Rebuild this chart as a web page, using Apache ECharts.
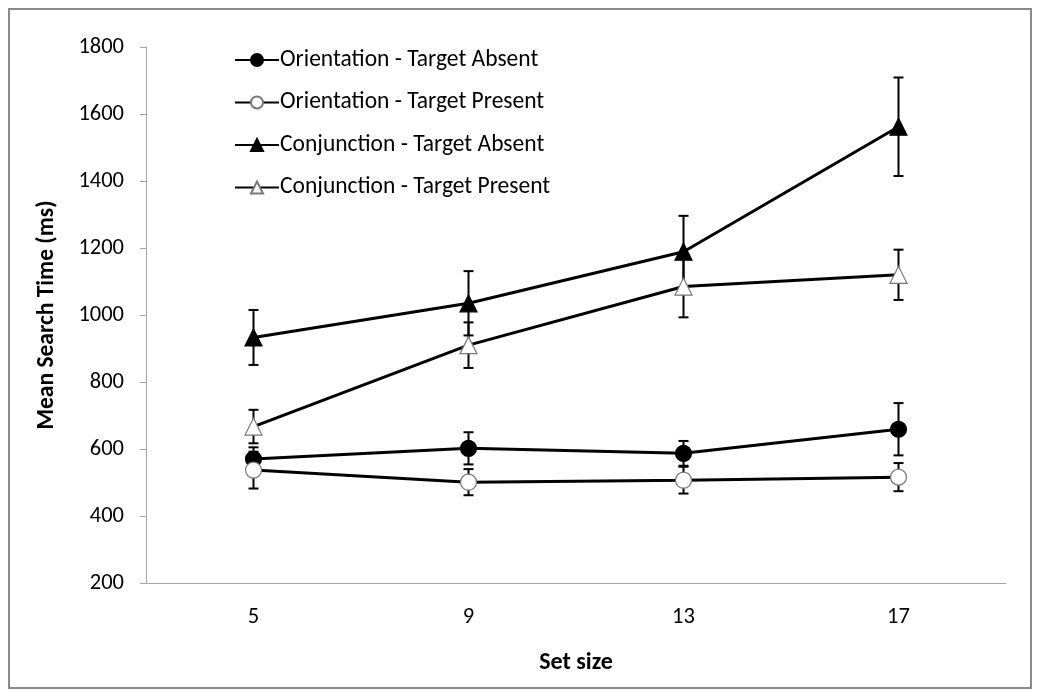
<!DOCTYPE html>
<html lang="en">
<head>
    <meta charset="UTF-8">
    <title>Mean Search Time</title>
    <style>
        html, body { margin: 0; padding: 0; background: #fff; }
        #main { width: 1040px; height: 696px; }
    </style>
</head>
<body>
<div id="main"></div>

<script src="https://cdn.jsdelivr.net/npm/echarts@6/dist/echarts.min.js"></script>
<script>
    var setSizes = ['5', '9', '13', '17'];
    var yTicks = [200, 400, 600, 800, 1000, 1200, 1400, 1600, 1800];

    var orientAbsent = [570, 602, 587, 659];
    var orientAbsentErr = [35, 48, 37, 78];
    var orientPresent = [537, 501, 507, 516];
    var orientPresentErr = [55, 39, 40, 42];
    var conjAbsent = [933, 1035, 1189, 1562];
    var conjAbsentErr = [82, 96, 107, 147];
    var conjPresent = [667, 910, 1085, 1120];
    var conjPresentErr = [50, 68, 92, 75];

    var font = 'Carlito, Calibri, "Noto Sans", sans-serif';

    function lineSeries(name, data, symbol, filled) {
        return {
            name: name,
            type: 'line',
            data: data,
            symbol: symbol,
            symbolSize: symbol === 'circle' ? 16 : 17,
            z: 4,
            lineStyle: { color: '#000', width: 3 },
            itemStyle: {
                color: filled ? '#000' : '#fff',
                borderColor: filled ? '#000' : '#777',
                borderWidth: 1.2
            }
        };
    }

    function errorSeries(values, errs) {
        var rows = values.map(function (v, i) {
            return [i, v - errs[i], v + errs[i]];
        });
        return {
            type: 'custom',
            data: rows,
            z: 3,
            silent: true,
            renderItem: function (params, api) {
                var lo = api.coord([api.value(0), api.value(1)]);
                var hi = api.coord([api.value(0), api.value(2)]);
                var half = 5;
                var style = { stroke: '#000', lineWidth: 2 };
                return {
                    type: 'group',
                    children: [
                        { type: 'line', shape: { x1: lo[0], y1: lo[1], x2: hi[0], y2: hi[1] }, style: style },
                        { type: 'line', shape: { x1: lo[0] - half, y1: lo[1], x2: lo[0] + half, y2: lo[1] }, style: style },
                        { type: 'line', shape: { x1: hi[0] - half, y1: hi[1], x2: hi[0] + half, y2: hi[1] }, style: style }
                    ]
                };
            }
        };
    }

    var chart = echarts.init(document.getElementById('main'));

    var option = {
        animation: false,
        backgroundColor: '#fff',
        textStyle: { fontFamily: font },
        graphic: [{
            type: 'rect',
            shape: { x: 9, y: 9, width: 1022, height: 679 },
            style: { fill: 'none', stroke: '#8a8a8a', lineWidth: 2 }
        }],
        legend: {
            orient: 'vertical',
            left: 229,
            top: 43,
            itemWidth: 44,
            itemHeight: 15,
            itemGap: 18.5,
            textStyle: { fontSize: 23.5, color: '#000', fontFamily: font, padding: [0, 0, 0, -4] },
            data: ['Orientation - Target Absent', 'Orientation - Target Present',
                   'Conjunction - Target Absent', 'Conjunction - Target Present']
        },
        grid: { left: 146, right: 34, top: 47, bottom: 113 },
        xAxis: {
            type: 'category',
            data: setSizes,
            name: 'Set size',
            nameLocation: 'middle',
            nameGap: 68,
            nameTextStyle: { fontSize: 24, fontWeight: 'bold', color: '#000' },
            axisLine: { lineStyle: { color: '#a6a6a6', width: 1 } },
            axisTick: { length: 6, lineStyle: { color: '#a6a6a6' } },
            axisLabel: { fontSize: 22.5, color: '#000', margin: 23 }
        },
        yAxis: {
            type: 'value',
            min: yTicks[0],
            max: yTicks[yTicks.length - 1],
            interval: 200,
            name: 'Mean Search Time (ms)',
            nameLocation: 'middle',
            nameGap: 87,
            nameTextStyle: { fontSize: 23.5, fontWeight: 'bold', color: '#000' },
            splitLine: { show: false },
            axisLine: { show: true, lineStyle: { color: '#a6a6a6', width: 1 } },
            axisTick: { show: true, length: 6, lineStyle: { color: '#a6a6a6' } },
            axisLabel: {
                fontSize: 22.5, color: '#000', margin: 22,
                formatter: function (v) { return String(v); }
            }
        },
        series: [
            errorSeries(orientAbsent, orientAbsentErr),
            errorSeries(orientPresent, orientPresentErr),
            errorSeries(conjAbsent, conjAbsentErr),
            errorSeries(conjPresent, conjPresentErr),
            lineSeries('Orientation - Target Absent', orientAbsent, 'circle', true),
            lineSeries('Orientation - Target Present', orientPresent, 'circle', false),
            lineSeries('Conjunction - Target Absent', conjAbsent, 'triangle', true),
            lineSeries('Conjunction - Target Present', conjPresent, 'triangle', false)
        ]
    };

    option && chart.setOption(option);
</script>
</body>
</html>
